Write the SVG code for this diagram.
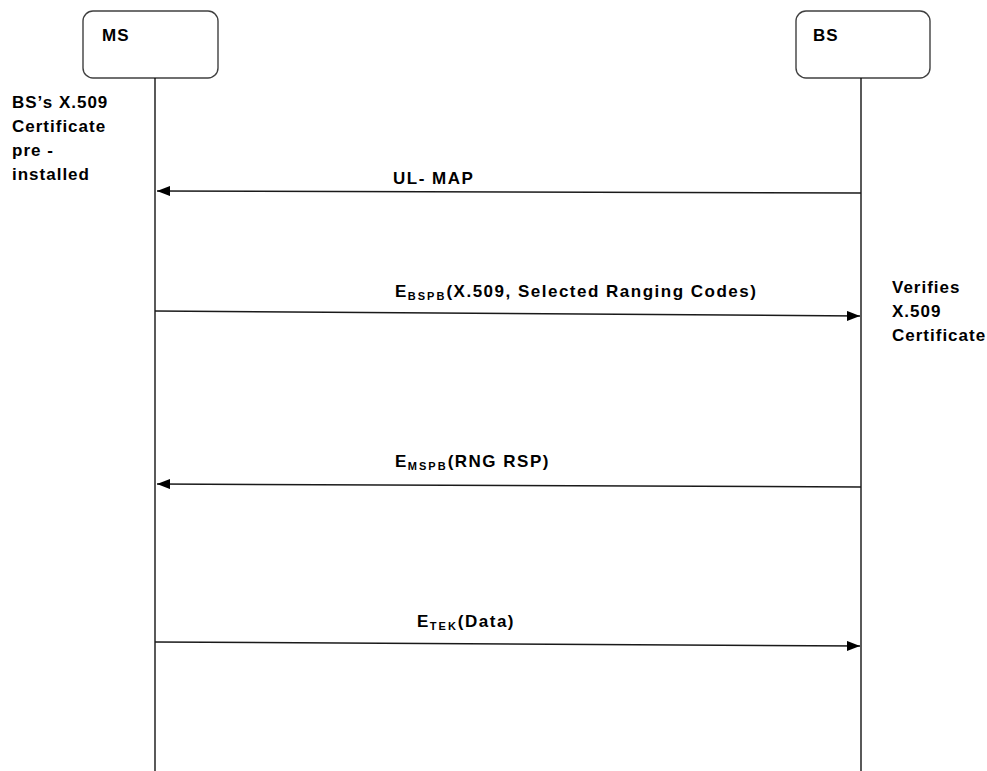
<svg xmlns="http://www.w3.org/2000/svg" width="987" height="771" viewBox="0 0 987 771">
<style>
text{font-family:"Liberation Sans",Arial,sans-serif;font-weight:bold;font-size:17px;letter-spacing:1px;fill:#000}
.lbl{letter-spacing:1.5px}
.sub{font-size:11px;letter-spacing:2px}
.box{fill:#fff;stroke:#404040;stroke-width:1.4}
.life{stroke:#000;stroke-width:1.3;fill:none}
.msg{stroke:#1a1a1a;stroke-width:1.5;fill:none}
</style>
<defs>
<marker id="ah" viewBox="0 0 13 10" refX="13" refY="5" markerWidth="13" markerHeight="10" markerUnits="userSpaceOnUse" orient="auto">
<path d="M0,0 L13,5 L0,10 Z" fill="#000"/>
</marker>
</defs>
<rect width="987" height="771" fill="#fff"/>
<g id="MS">
<rect class="box" x="83" y="11" width="135" height="67" rx="10"/>
<text x="102" y="41">MS</text>
<line class="life" x1="155" y1="78" x2="155" y2="771"/>
</g>
<g id="BS">
<rect class="box" x="796" y="11" width="134" height="67" rx="10"/>
<text x="813" y="41">BS</text>
<line class="life" x1="861" y1="78" x2="861" y2="771"/>
</g>
<g id="note-ms">
<text x="12" y="108">BS’s X.509</text>
<text x="12" y="132">Certificate</text>
<text x="12" y="156">pre -</text>
<text x="12" y="180">installed</text>
</g>
<g id="note-bs">
<text x="892" y="293">Verifies</text>
<text x="892" y="317">X.509</text>
<text x="892" y="341">Certificate</text>
</g>
<g id="connectors">
<line class="msg" x1="861" y1="193" x2="157" y2="191" marker-end="url(#ah)"/>
<line class="msg" x1="155" y1="311" x2="860" y2="316" marker-end="url(#ah)"/>
<line class="msg" x1="861" y1="487" x2="157" y2="484" marker-end="url(#ah)"/>
<line class="msg" x1="155" y1="642" x2="860" y2="646" marker-end="url(#ah)"/>
</g>
<g id="labels">
<text class="lbl" x="393" y="184">UL- MAP</text>
<text class="lbl" x="395" y="297">E<tspan class="sub" dy="3">BSPB</tspan><tspan dy="-3">(X.509, Selected Ranging Codes)</tspan></text>
<text class="lbl" x="395" y="467">E<tspan class="sub" dy="3">MSPB</tspan><tspan dy="-3">(RNG RSP)</tspan></text>
<text class="lbl" x="417" y="627">E<tspan class="sub" dy="3">TEK</tspan><tspan dy="-3">(Data)</tspan></text>
</g>
</svg>
